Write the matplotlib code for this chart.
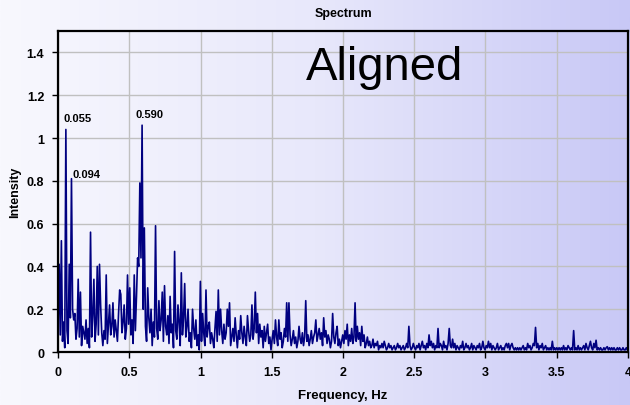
import numpy as np
import matplotlib
matplotlib.use("Agg")
import matplotlib.pyplot as plt
from matplotlib.colors import LinearSegmentedColormap

plt.rcParams['font.family'] = ['Liberation Sans', 'DejaVu Sans']

# spectrum bins, spacing fixed so that bin 75 sits at 0.590 Hz
freq_step = 0.59 / 75
intensity = [
    # 0.0 - 0.5 Hz
    0.12, 0.41, 0.08, 0.52, 0.05, 0.14, 0.02, 1.04, 0.10, 0.04, 0.41, 0.16, 0.81, 0.20, 0.15, 0.18,
    0.06, 0.11, 0.34, 0.07, 0.28, 0.03, 0.12, 0.09, 0.06, 0.15, 0.04, 0.11, 0.02, 0.56, 0.07, 0.17,
    0.34, 0.05, 0.13, 0.40, 0.08, 0.41, 0.22, 0.09, 0.03, 0.10, 0.06, 0.36, 0.04, 0.13, 0.22, 0.08,
    0.12, 0.23, 0.07, 0.15, 0.10, 0.05, 0.18, 0.29, 0.27, 0.09, 0.14, 0.22, 0.06, 0.11, 0.36, 0.13,
    # 0.5 - 1.0 Hz
    0.30, 0.08, 0.15, 0.04, 0.36, 0.10, 0.26, 0.44, 0.40, 0.79, 0.44, 1.06, 0.20, 0.58, 0.12, 0.05,
    0.30, 0.16, 0.09, 0.20, 0.03, 0.14, 0.07, 0.59, 0.11, 0.06, 0.24, 0.10, 0.15, 0.28, 0.05, 0.31,
    0.12, 0.08, 0.17, 0.04, 0.26, 0.09, 0.13, 0.02, 0.47, 0.10, 0.06, 0.22, 0.14, 0.03, 0.37, 0.08,
    0.16, 0.32, 0.07, 0.12, 0.20, 0.05, 0.09, 0.02, 0.20, 0.11, 0.06, 0.15, 0.03, 0.08, 0.01, 0.33,
    # 1.0 - 1.5 Hz
    0.05, 0.18, 0.09, 0.03, 0.29, 0.07, 0.12, 0.14, 0.04, 0.09, 0.06, 0.02, 0.11, 0.19, 0.05, 0.29,
    0.08, 0.20, 0.10, 0.04, 0.13, 0.06, 0.09, 0.20, 0.12, 0.23, 0.03, 0.07, 0.11, 0.05, 0.16, 0.08,
    0.02, 0.10, 0.06, 0.17, 0.09, 0.04, 0.12, 0.07, 0.03, 0.17, 0.10, 0.05, 0.08, 0.22, 0.06, 0.11,
    0.28, 0.09, 0.18, 0.04, 0.13, 0.07, 0.10, 0.02, 0.12, 0.05, 0.09, 0.13, 0.04, 0.07, 0.01, 0.06,
    # 1.5 - 2.0 Hz
    0.10, 0.04, 0.15, 0.07, 0.03, 0.15, 0.06, 0.09, 0.02, 0.05, 0.11, 0.07, 0.23, 0.05, 0.23, 0.08,
    0.03, 0.06, 0.10, 0.04, 0.07, 0.02, 0.05, 0.12, 0.06, 0.04, 0.09, 0.03, 0.07, 0.24, 0.05, 0.08,
    0.03, 0.06, 0.10, 0.04, 0.07, 0.09, 0.15, 0.05, 0.08, 0.11, 0.06, 0.09, 0.03, 0.16, 0.07, 0.10,
    0.04, 0.08, 0.06, 0.02, 0.05, 0.18, 0.07, 0.04, 0.09, 0.12, 0.03, 0.06, 0.02, 0.05, 0.08, 0.04,
    # 2.0 - 2.5 Hz
    0.10, 0.06, 0.13, 0.03, 0.08, 0.05, 0.11, 0.04, 0.07, 0.23, 0.05, 0.12, 0.06, 0.09, 0.03, 0.12,
    0.05, 0.08, 0.02, 0.04, 0.07, 0.03, 0.05, 0.02, 0.03, 0.06, 0.02, 0.04, 0.03, 0.05, 0.01, 0.03,
    0.02, 0.04, 0.02, 0.05, 0.03, 0.01, 0.02, 0.04, 0.02, 0.03, 0.01, 0.02, 0.03, 0.01, 0.02, 0.04,
    0.02, 0.03, 0.01, 0.02, 0.03, 0.01, 0.02, 0.04, 0.02, 0.12, 0.03, 0.01, 0.02, 0.04, 0.02, 0.01,
    # 2.5 - 3.0 Hz
    0.03, 0.02, 0.04, 0.01, 0.03, 0.05, 0.02, 0.03, 0.01, 0.04, 0.02, 0.08, 0.03, 0.05, 0.02, 0.04,
    0.01, 0.03, 0.02, 0.11, 0.02, 0.04, 0.03, 0.01, 0.05, 0.02, 0.03, 0.01, 0.04, 0.11, 0.03, 0.02,
    0.06, 0.02, 0.04, 0.01, 0.03, 0.02, 0.01, 0.03, 0.02, 0.05, 0.01, 0.02, 0.04, 0.02, 0.03, 0.01,
    0.02, 0.04, 0.01, 0.03, 0.02, 0.01, 0.03, 0.02, 0.04, 0.01, 0.02, 0.05, 0.02, 0.01, 0.03, 0.02,
    # 3.0 - 3.5 Hz
    0.05, 0.02, 0.04, 0.01, 0.03, 0.02, 0.01, 0.02, 0.04, 0.01, 0.02, 0.03, 0.01, 0.02, 0.01, 0.03,
    0.04, 0.02, 0.04, 0.01, 0.03, 0.04, 0.02, 0.01, 0.02, 0.01, 0.02, 0.01, 0.02, 0.01, 0.02, 0.03,
    0.01, 0.02, 0.01, 0.04, 0.02, 0.03, 0.01, 0.02, 0.04, 0.03, 0.115, 0.02, 0.04, 0.01, 0.03, 0.02,
    0.04, 0.01, 0.02, 0.03, 0.01, 0.02, 0.01, 0.02, 0.01, 0.05, 0.01, 0.02, 0.01, 0.02, 0.01, 0.02,
    # 3.5 - 4.0 Hz
    0.01, 0.02, 0.01, 0.03, 0.01, 0.02, 0.01, 0.03, 0.02, 0.01, 0.02, 0.01, 0.10, 0.01, 0.02, 0.01,
    0.03, 0.01, 0.02, 0.01, 0.02, 0.03, 0.01, 0.04, 0.02, 0.01, 0.03, 0.05, 0.02, 0.01, 0.04, 0.02,
    0.055, 0.01, 0.02, 0.01, 0.02, 0.01, 0.01, 0.02, 0.01, 0.02, 0.025, 0.01, 0.02, 0.01, 0.02, 0.01,
    0.02, 0.01, 0.01, 0.02, 0.01, 0.02, 0.01, 0.01, 0.02, 0.01, 0.01, 0.02, 0.01,
]
freqs = np.arange(len(intensity)) * freq_step

# labelled peaks: bin index and pixel offset for the label
peak_bins = [7, 12, 75]
peak_labels = ['0.055', '0.094', '0.590']
label_offsets = [(-2, 8), (1, 2), (-7, 8)]

fig = plt.figure(figsize=(6.3, 4.06), dpi=100)

# whole-figure horizontal gradient, white to lavender
bg = fig.add_axes([0, 0, 1, 1], zorder=-1)
cmap = LinearSegmentedColormap.from_list(
    'bg', [(0.0, '#f8f8fe'), (0.5, '#e8e8fb'), (1.0, '#c8c8f6')])
bg.imshow(np.linspace(0, 1, 256)[None, :], aspect='auto', cmap=cmap,
          extent=[0, 1, 0, 1])
bg.axis('off')

ax = fig.add_axes([0.0921, 0.1305, 0.9047, 0.7905])
ax.set_facecolor('none')
ax.plot(freqs, intensity, color='#000080', lw=1.2)

ax.set_xlim(0, 4)
ax.set_ylim(0, 1.5)
ax.set_xticks(np.arange(0, 4.01, 0.5))
ax.set_xticklabels(['0', '0.5', '1', '1.5', '2', '2.5', '3', '3.5', '4'])
ax.set_yticks(np.arange(0, 1.41, 0.2))
ax.set_yticklabels(['0', '0.2', '0.4', '0.6', '0.8', '1', '1.2', '1.4'])
ax.grid(True, color='#c0c0c0', lw=1)
ax.set_axisbelow(True)
for s in ax.spines.values():
    s.set_linewidth(1.6)
    s.set_color('black')
ax.tick_params(length=4, width=1, labelsize=9, pad=6)
for lab in ax.get_xticklabels() + ax.get_yticklabels():
    lab.set_fontweight('bold')

ax.set_xlabel('Frequency, Hz', fontsize=9.5, fontweight='bold', labelpad=8)
ax.set_ylabel('Intensity', fontsize=9, fontweight='bold', labelpad=4)
ax.set_title('Spectrum', fontsize=9, fontweight='bold', pad=11)

for b, lab, off in zip(peak_bins, peak_labels, label_offsets):
    ax.annotate(lab, (freqs[b], intensity[b]), xytext=off,
                textcoords='offset pixels', fontsize=8, fontweight='bold',
                ha='left', va='baseline')

ax.text(1.74, 1.278, 'Aligned', fontsize=34, ha='left', va='baseline')

fig.savefig('out.png', dpi=100)
